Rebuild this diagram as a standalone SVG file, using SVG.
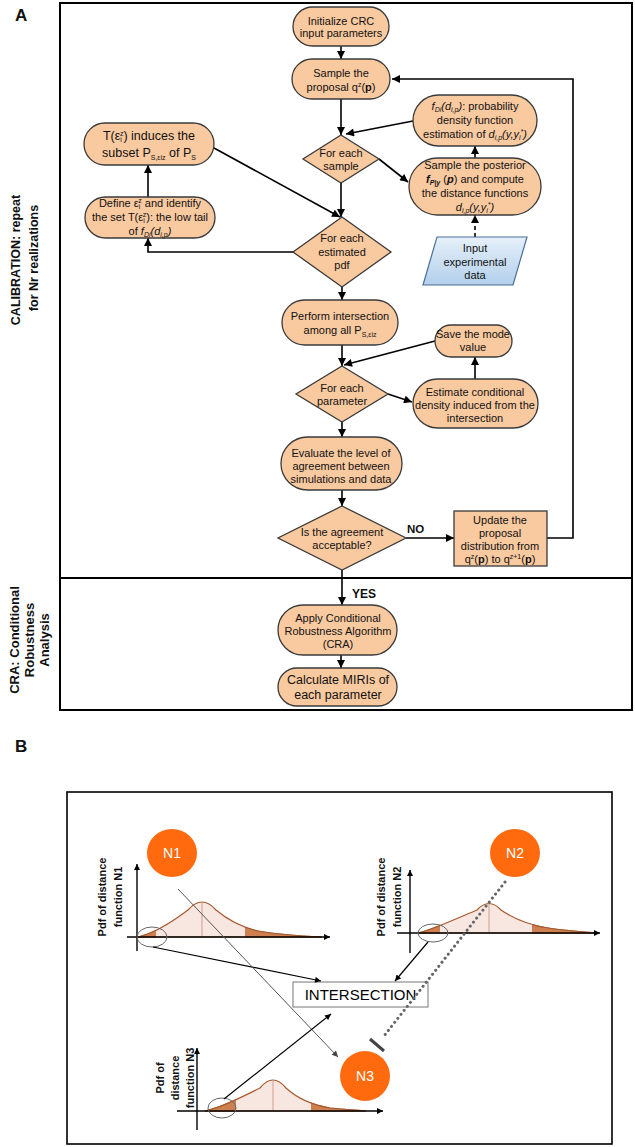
<svg xmlns="http://www.w3.org/2000/svg" width="635" height="1147" viewBox="0 0 635 1147">
<defs>
<style>
.box{fill:#F9C9A0;stroke:#3a3a3a;stroke-width:1.3}
.para{fill:url(#blue);stroke:#4a6f96;stroke-width:1.2}
.t{font-family:"Liberation Sans",Arial,sans-serif;font-size:11px;fill:#111;text-anchor:middle}
.tb{font-size:12.5px}
.lbl{font-family:"Liberation Sans",Arial,sans-serif;font-weight:bold;fill:#111}
.ln{stroke:#000;stroke-width:1.6;fill:none}
.lnb{stroke:#000;stroke-width:1.2;fill:none}
.ax{stroke:#000;stroke-width:1.4;fill:none}
.curve{fill:#F8E6E1;stroke:#A65A2E;stroke-width:1.2}
.tail{fill:#CF8050;stroke:#A65A2E;stroke-width:1.2}
.pk{stroke:#CFA090;stroke-width:1}
.hl{fill:none;stroke:#666;stroke-width:1}
.nc{fill:#FF6A0F}
.nt{font-family:"Liberation Sans",Arial,sans-serif;font-size:14px;fill:#fff;text-anchor:middle}
.s{font-size:7px}
.i{font-style:italic}
.b{font-weight:bold}
</style>
<linearGradient id="blue" x1="0" y1="0" x2="0" y2="1">
<stop offset="0" stop-color="#E6F0FA"/>
<stop offset="1" stop-color="#B2CFEB"/>
</linearGradient>
<marker id="ah" viewBox="0 0 10 10" refX="10" refY="5" markerWidth="9" markerHeight="8" markerUnits="userSpaceOnUse" orient="auto">
<path d="M0,0 L10,5 L0,10 z" fill="#000"/>
</marker>
<marker id="ahs" viewBox="0 0 10 10" refX="10" refY="5" markerWidth="7" markerHeight="6" markerUnits="userSpaceOnUse" orient="auto">
<path d="M0,0 L10,5 L0,10 z" fill="#000"/>
</marker>
<marker id="ahg" viewBox="0 0 10 10" refX="10" refY="5" markerWidth="7" markerHeight="6" markerUnits="userSpaceOnUse" orient="auto">
<path d="M0,0 L10,5 L0,10 z" fill="#444"/>
</marker>
<path id="c1" d="M138,937 C152,934 172,922 188,910 Q202,894 216,910 C228,920 240,927 258,931 C280,935 300,936 322,937 Z"/>
<path id="c2" d="M418,933 C432,930 458,918 477,910 Q489,897 501,910 C514,919 528,925 548,928 C568,931 584,932 595,933 Z"/>
<path id="c3" d="M205,1111 C220,1108 240,1098 260,1088 Q273,1072 286,1088 C298,1099 312,1105 330,1108 C346,1110 358,1110 366,1111 Z"/>
<clipPath id="g1L"><rect x="120" y="880" width="36" height="70"/></clipPath>
<clipPath id="g1R"><rect x="245" y="880" width="100" height="70"/></clipPath>
<clipPath id="g2L"><rect x="400" y="880" width="40" height="70"/></clipPath>
<clipPath id="g2R"><rect x="532" y="880" width="80" height="70"/></clipPath>
<clipPath id="g3L"><rect x="190" y="1060" width="46" height="60"/></clipPath>
<clipPath id="g3R"><rect x="311" y="1060" width="80" height="60"/></clipPath>
</defs>
<rect width="635" height="1147" fill="#fff"/>

<!-- Panel A frame -->
<g id="panelA-frame">
<rect x="60" y="3" width="572" height="707" fill="none" stroke="#000" stroke-width="2"/>
<line x1="60" y1="578" x2="632" y2="578" stroke="#000" stroke-width="2"/>
<text class="lbl" x="15" y="21" font-size="17">A</text>
<text class="lbl" font-size="12.5" text-anchor="middle" transform="translate(20,260) rotate(-90)">CALIBRATION: repeat</text>
<text class="lbl" font-size="12.5" text-anchor="middle" transform="translate(38,258) rotate(-90)">for Nr realizations</text>
<text class="lbl" font-size="13" text-anchor="middle" transform="translate(19,640) rotate(-90)">CRA: Conditional</text>
<text class="lbl" font-size="13" text-anchor="middle" transform="translate(34,640) rotate(-90)">Robustness</text>
<text class="lbl" font-size="13" text-anchor="middle" transform="translate(49,640) rotate(-90)">Analysis</text>
</g>

<!-- Connectors panel A -->
<g id="connectors">
<line class="ln" x1="341" y1="46" x2="341" y2="59" marker-end="url(#ah)"/>
<line class="ln" x1="341" y1="99" x2="341" y2="135" marker-end="url(#ah)"/>
<line class="ln" x1="413" y1="121" x2="346" y2="134" marker-end="url(#ah)"/>
<line class="ln" x1="379" y1="159" x2="408" y2="182" marker-end="url(#ah)"/>
<line class="ln" x1="475" y1="158" x2="475" y2="146" marker-end="url(#ah)"/>
<line class="ln" x1="475" y1="237" x2="475" y2="215" stroke-dasharray="4,3" marker-end="url(#ah)"/>
<line class="ln" x1="341" y1="183" x2="341" y2="217" marker-end="url(#ah)"/>
<line class="ln" x1="214" y1="148" x2="340" y2="217" marker-end="url(#ah)"/>
<polyline class="ln" points="293,252 148,252 148,238" marker-end="url(#ah)"/>
<line class="ln" x1="148" y1="197" x2="148" y2="165" marker-end="url(#ah)"/>
<line class="ln" x1="342" y1="287" x2="342" y2="300" marker-end="url(#ah)"/>
<line class="ln" x1="342" y1="345" x2="342" y2="366" marker-end="url(#ah)"/>
<line class="ln" x1="475" y1="379" x2="475" y2="357" marker-end="url(#ah)"/>
<line class="ln" x1="435" y1="341" x2="344" y2="365" marker-end="url(#ah)"/>
<line class="ln" x1="388" y1="394" x2="412" y2="402" marker-end="url(#ah)"/>
<line class="ln" x1="342" y1="422" x2="342" y2="437" marker-end="url(#ah)"/>
<line class="ln" x1="342" y1="490" x2="342" y2="506" marker-end="url(#ah)"/>
<line class="ln" x1="406" y1="538" x2="454" y2="538" marker-end="url(#ah)"/>
<polyline class="ln" points="547,538 573,538 573,79 392,79" marker-end="url(#ah)"/>
<line class="ln" x1="342" y1="570" x2="342" y2="605" marker-end="url(#ah)"/>
<line class="ln" x1="341" y1="655" x2="341" y2="668" marker-end="url(#ah)"/>
<text class="lbl" x="407" y="533" font-size="11.5">NO</text>
<text class="lbl" x="352" y="598" font-size="12">YES</text>
</g>

<!-- Nodes panel A -->
<g id="init">
<rect class="box" x="293" y="7" width="96" height="39" rx="19.5"/>
<text class="t" x="341" y="25">Initialize CRC</text>
<text class="t" x="341" y="37">input parameters</text>
</g>
<g id="sample-proposal">
<rect class="box" x="292" y="59" width="98" height="40" rx="20"/>
<text class="t" x="341" y="77">Sample the</text>
<text class="t" x="341" y="91">proposal q<tspan class="s" baseline-shift="4">z</tspan>(<tspan class="b">p</tspan>)</text>
</g>
<g id="for-each-sample">
<polygon class="box" points="341,135 379,159 341,183 303,159"/>
<text class="t" x="341" y="157">For each</text>
<text class="t" x="341" y="170">sample</text>
</g>
<g id="pdf-estimation">
<rect class="box" x="413" y="95" width="124" height="51" rx="25.5"/>
<text class="t" x="475" y="110"><tspan class="i">f</tspan><tspan class="s i" baseline-shift="-2">Di</tspan><tspan class="i">(d</tspan><tspan class="s i" baseline-shift="-2">i,p</tspan><tspan class="i">)</tspan>: probability</text>
<text class="t" x="475" y="124">density function</text>
<text class="t" x="475" y="138">estimation of <tspan class="i">d</tspan><tspan class="s i" baseline-shift="-2">i,p</tspan><tspan class="i">(y,y</tspan><tspan class="s i" baseline-shift="-2">i</tspan><tspan class="s i" baseline-shift="4">*</tspan><tspan class="i">)</tspan></text>
</g>
<g id="sample-posterior">
<rect class="box" x="409" y="158" width="132" height="57" rx="28.5"/>
<text class="t" x="475" y="169">Sample the posterior</text>
<text class="t" x="475" y="183"><tspan class="i b">f</tspan><tspan class="s i b" baseline-shift="-2">P|y</tspan> (<tspan class="i b">p</tspan>) and compute</text>
<text class="t" x="475" y="197">the distance functions</text>
<text class="t" x="475" y="211"><tspan class="i">d</tspan><tspan class="s i" baseline-shift="-2">i,p</tspan><tspan class="i">(y,y</tspan><tspan class="s i" baseline-shift="-2">i</tspan><tspan class="s i" baseline-shift="4">*</tspan><tspan class="i">)</tspan></text>
</g>
<g id="input-data">
<polygon class="para" points="437,237 527,237 513,285 423,285"/>
<text class="t" x="475" y="252">Input</text>
<text class="t" x="475" y="266">experimental</text>
<text class="t" x="475" y="279">data</text>
</g>
<g id="subset">
<rect class="box" x="84" y="123" width="130" height="42" rx="21"/>
<text class="t tb" x="149" y="140">T(ε<tspan class="s" baseline-shift="-2">i</tspan><tspan class="s" baseline-shift="4" dx="-2">z</tspan>) induces the</text>
<text class="t tb" x="149" y="157">subset P<tspan class="s" baseline-shift="-3">S,εiz</tspan> of P<tspan class="s" baseline-shift="-3">S</tspan></text>
</g>
<g id="define-tail">
<rect class="box" x="85" y="197" width="130" height="41" rx="20.5"/>
<text class="t" x="150" y="207">Define ε<tspan class="s" baseline-shift="-2">i</tspan><tspan class="s" baseline-shift="4" dx="-2">z</tspan> and identify</text>
<text class="t" x="150" y="221">the set T(ε<tspan class="s" baseline-shift="-2">i</tspan><tspan class="s" baseline-shift="4" dx="-2">z</tspan>): the low tail</text>
<text class="t" x="150" y="235">of <tspan class="i">f</tspan><tspan class="s i" baseline-shift="-2">Di</tspan><tspan class="i">(d</tspan><tspan class="s i" baseline-shift="-2">i,p</tspan><tspan class="i">)</tspan></text>
</g>
<g id="for-each-pdf">
<polygon class="box" points="342,217 391,252 342,287 293,252"/>
<text class="t" x="342" y="242">For each</text>
<text class="t" x="342" y="256">estimated</text>
<text class="t" x="342" y="269">pdf</text>
</g>
<g id="intersection-step">
<rect class="box" x="282" y="300" width="116" height="45" rx="22.5"/>
<text class="t" x="340" y="320">Perform intersection</text>
<text class="t" x="340" y="334">among all P<tspan class="s" baseline-shift="-3">S,εiz</tspan></text>
</g>
<g id="for-each-parameter">
<polygon class="box" points="342,366 388,394 342,422 296,394"/>
<text class="t" x="342" y="392">For each</text>
<text class="t" x="342" y="405">parameter</text>
</g>
<g id="save-mode">
<rect class="box" x="435" y="325" width="77" height="32" rx="16"/>
<text class="t" x="473" y="338">Save the mode</text>
<text class="t" x="473" y="351">value</text>
</g>
<g id="estimate-density">
<rect class="box" x="413" y="379" width="125" height="49" rx="24.5"/>
<text class="t" x="475" y="396">Estimate conditional</text>
<text class="t" x="475" y="409">density induced from the</text>
<text class="t" x="475" y="422">intersection</text>
</g>
<g id="evaluate">
<rect class="box" x="281" y="437" width="121" height="53" rx="26.5"/>
<text class="t" x="341" y="457">Evaluate the level of</text>
<text class="t" x="341" y="470">agreement between</text>
<text class="t" x="341" y="483">simulations and data</text>
</g>
<g id="acceptable">
<polygon class="box" points="342,506 406,538 342,570 278,538"/>
<text class="t" x="342" y="536">Is the agreement</text>
<text class="t" x="342" y="549">acceptable?</text>
</g>
<g id="update">
<rect class="box" x="454" y="511" width="93" height="55"/>
<text class="t" x="500" y="524">Update the</text>
<text class="t" x="500" y="537">proposal</text>
<text class="t" x="500" y="550">distribution from</text>
<text class="t" x="500" y="563">q<tspan class="s" baseline-shift="4">z</tspan>(<tspan class="b">p</tspan>) to q<tspan class="s" baseline-shift="4">z+1</tspan>(<tspan class="b">p</tspan>)</text>
</g>
<g id="apply-cra">
<rect class="box" x="278" y="605" width="119" height="50" rx="25"/>
<text class="t" x="338" y="622">Apply Conditional</text>
<text class="t" x="338" y="635">Robustness Algorithm</text>
<text class="t" x="338" y="648">(CRA)</text>
</g>
<g id="calculate-miri">
<rect class="box" x="278" y="668" width="119" height="38" rx="19"/>
<text class="t tb" x="338" y="684">Calculate MIRIs of</text>
<text class="t tb" x="338" y="699">each parameter</text>
</g>

<!-- Panel B -->
<g id="panelB-frame">
<text class="lbl" x="15" y="752" font-size="17">B</text>
<rect x="67" y="792" width="545" height="352" fill="none" stroke="#000" stroke-width="1.6"/>
</g>
<g id="graph-N1">
<use href="#c1" class="curve"/>
<use href="#c1" class="tail" clip-path="url(#g1L)"/>
<use href="#c1" class="tail" clip-path="url(#g1R)"/>
<line class="pk" x1="202" y1="902" x2="202" y2="937"/>
<line class="ax" x1="137" y1="951" x2="137" y2="864" marker-end="url(#ahs)"/>
<line class="ax" x1="127" y1="937" x2="330" y2="937" marker-end="url(#ahs)"/>
<ellipse class="hl" cx="152" cy="937" rx="15" ry="10"/>
<text class="lbl" font-size="11" text-anchor="middle" transform="translate(106,897) rotate(-90)">Pdf of distance</text>
<text class="lbl" font-size="11" text-anchor="middle" transform="translate(122,897) rotate(-90)">function N1</text>
</g>
<g id="graph-N2">
<use href="#c2" class="curve"/>
<use href="#c2" class="tail" clip-path="url(#g2L)"/>
<use href="#c2" class="tail" clip-path="url(#g2R)"/>
<line class="pk" x1="489" y1="903" x2="489" y2="933"/>
<line class="ax" x1="410" y1="953" x2="410" y2="870" marker-end="url(#ahs)"/>
<line class="ax" x1="397" y1="933" x2="600" y2="933" marker-end="url(#ahs)"/>
<ellipse class="hl" cx="433" cy="933" rx="15" ry="9"/>
<text class="lbl" font-size="11" text-anchor="middle" transform="translate(385,897) rotate(-90)">Pdf of distance</text>
<text class="lbl" font-size="11" text-anchor="middle" transform="translate(401,897) rotate(-90)">function N2</text>
</g>
<g id="graph-N3">
<use href="#c3" class="curve"/>
<use href="#c3" class="tail" clip-path="url(#g3L)"/>
<use href="#c3" class="tail" clip-path="url(#g3R)"/>
<line class="pk" x1="273" y1="1080" x2="273" y2="1111"/>
<line class="ax" x1="197" y1="1130" x2="197" y2="1048" marker-end="url(#ahs)"/>
<line class="ax" x1="177" y1="1111" x2="383" y2="1111" marker-end="url(#ahs)"/>
<ellipse class="hl" cx="222" cy="1108" rx="14" ry="10"/>
<text class="lbl" font-size="11" text-anchor="middle" transform="translate(164,1078) rotate(-90)">Pdf of</text>
<text class="lbl" font-size="11" text-anchor="middle" transform="translate(179,1078) rotate(-90)">distance</text>
<text class="lbl" font-size="11" text-anchor="middle" transform="translate(194,1078) rotate(-90)">function N3</text>
</g>
<g id="intersection">
<rect x="293" y="982" width="135" height="25" fill="#fff" stroke="#777" stroke-width="1"/>
<text x="360.5" y="1000" font-family="Liberation Sans, Arial, sans-serif" font-size="15" text-anchor="middle" fill="#000">INTERSECTION</text>
</g>
<g id="connectors-B">
<line class="lnb" x1="153" y1="947" x2="321" y2="981" marker-end="url(#ahs)"/>
<line x1="178" y1="889" x2="338" y2="1057" stroke="#555" stroke-width="1" marker-end="url(#ahg)"/>
<line class="lnb" x1="428" y1="942" x2="395" y2="981" marker-end="url(#ahs)"/>
<line class="lnb" x1="224" y1="1099" x2="331" y2="1014" marker-end="url(#ahs)"/>
<line x1="505" y1="882" x2="384" y2="1036" stroke="#666" stroke-width="3" stroke-dasharray="0.1,5" stroke-linecap="round"/>
<line x1="370" y1="1039" x2="384" y2="1051" stroke="#444" stroke-width="3"/>
</g>
<g id="N1"><ellipse class="nc" cx="172" cy="853" rx="25" ry="24"/><text class="nt" x="172" y="858">N1</text></g>
<g id="N2"><ellipse class="nc" cx="515" cy="853" rx="25" ry="24"/><text class="nt" x="515" y="858">N2</text></g>
<g id="N3"><ellipse class="nc" cx="365" cy="1076" rx="25" ry="25"/><text class="nt" x="365" y="1081">N3</text></g>
</svg>
